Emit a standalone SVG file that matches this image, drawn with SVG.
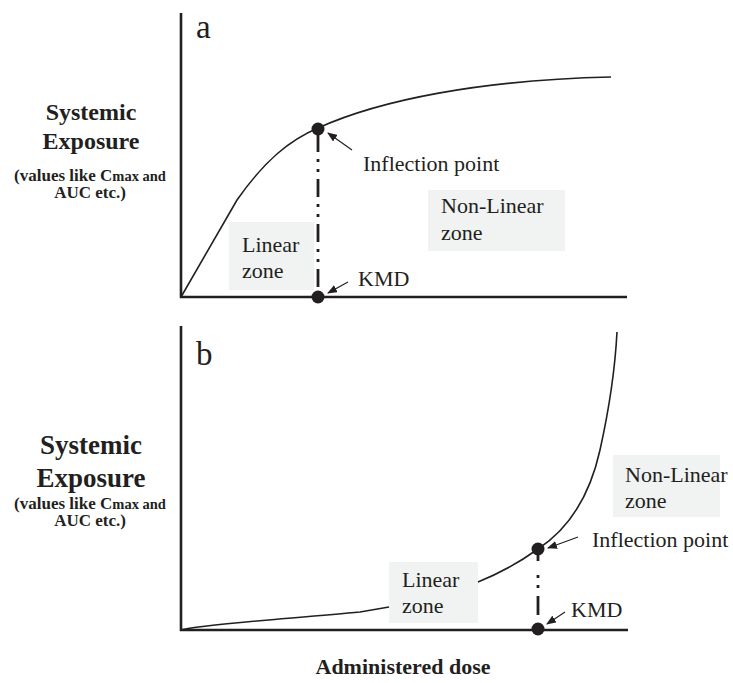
<svg xmlns="http://www.w3.org/2000/svg" width="733" height="683" viewBox="0 0 733 683">
<style>
.ax{stroke:#231f20;stroke-width:2.6;fill:none}
.cv{stroke:#231f20;stroke-width:1.6;fill:none}
.dd{stroke:#231f20;stroke-width:2.8;fill:none}
.ar{stroke:#231f20;stroke-width:1.2;fill:none}
.dot{fill:#231f20}
.box{fill:#f1f3f2}
.t{font-family:"Liberation Serif","Times New Roman",serif;fill:#231f20;font-size:22px}
.lb{font-family:"Liberation Serif","Times New Roman",serif;fill:#231f20;font-weight:bold;text-anchor:middle}
.pl{font-family:"Liberation Serif","Times New Roman",serif;fill:#231f20;font-size:33px}
</style>
<defs>
<marker id="ah" markerWidth="10" markerHeight="8" refX="9" refY="4" orient="auto" markerUnits="userSpaceOnUse">
<path d="M0,0 L10,4 L0,8 Z" fill="#231f20"/>
</marker>
</defs>

<g id="panel-a">
<g id="axes-a">
<path class="ax" d="M181,13 V297 H627"/>
</g>
<text class="pl" x="196" y="38">a</text>
<g id="ylabel-a">
<text class="lb" x="91" y="120" font-size="24">Systemic</text>
<text class="lb" x="91" y="149" font-size="24">Exposure</text>
<text class="lb" x="90" y="181" font-size="17">(values like C<tspan font-size="14.5">max and</tspan></text>
<text class="lb" x="90" y="198" font-size="17">AUC etc.)</text>
</g>
<g id="linear-a">
<rect class="box" x="229" y="222" width="85" height="68"/>
<text class="t" x="242" y="252">Linear</text>
<text class="t" x="242" y="278">zone</text>
</g>
<g id="nonlinear-a">
<rect class="box" x="428" y="190" width="137" height="61"/>
<text class="t" x="441" y="213">Non-Linear</text>
<text class="t" x="441" y="240">zone</text>
</g>
<g id="curve-a">
<path class="cv" d="M181,297 L237,200 C265,160 290,140 318,128 C380,100 480,80 611,77"/>
</g>
<g id="inflection-a">
<circle class="dot" cx="318" cy="129" r="6.5"/>
<text class="t" x="363" y="171">Inflection point</text>
</g>
<g id="kmd-a">
<circle class="dot" cx="318" cy="297" r="6.5"/>
<text class="t" x="358" y="286">KMD</text>
</g>
</g>

<g id="panel-b">
<g id="axes-b">
<path class="ax" d="M181,326 V630 H628"/>
</g>
<text class="pl" x="196" y="365">b</text>
<g id="ylabel-b">
<text class="lb" x="91" y="454" font-size="27">Systemic</text>
<text class="lb" x="91" y="487" font-size="27">Exposure</text>
<text class="lb" x="90" y="509" font-size="17">(values like C<tspan font-size="14.5">max and</tspan></text>
<text class="lb" x="90" y="526" font-size="17">AUC etc.)</text>
</g>
<g id="linear-b">
<rect class="box" x="389" y="562" width="89" height="61"/>
<text class="t" x="402" y="587">Linear</text>
<text class="t" x="402" y="613">zone</text>
</g>
<g id="nonlinear-b">
<rect class="box" x="613" y="455" width="107" height="62"/>
<text class="t" x="625" y="482">Non-Linear</text>
<text class="t" x="625" y="508">zone</text>
</g>
<g id="curve-b">
<path class="cv" d="M181,630 C200,624 300,618 360,612 L389,607 M478,582 C500,573 520,562 538,549 C570,528 590,495 600,450 C610,405 615,370 617,332"/>
</g>
<g id="inflection-b">
<circle class="dot" cx="538" cy="549" r="6.5"/>
<text class="t" x="592" y="547">Inflection point</text>
</g>
<g id="kmd-b">
<circle class="dot" cx="538" cy="629" r="6.5"/>
<text class="t" x="571" y="617">KMD</text>
</g>
</g>

<text class="lb" x="403" y="674" font-size="22">Administered dose</text>

<g id="connectors">
<path class="dd" d="M318,134 V297" stroke-dasharray="18 7 3 7 3 7"/>
<path class="dd" d="M538,553 V629" stroke-dasharray="8 14 3 7 3 8 19 30"/>
<path class="ar" d="M352,150 L328,133" marker-end="url(#ah)"/>
<path class="ar" d="M348,282 L328,293" marker-end="url(#ah)"/>
<path class="ar" d="M578,537 L548,548" marker-end="url(#ah)"/>
<path class="ar" d="M565,612 L547,624" marker-end="url(#ah)"/>
</g>
</svg>
